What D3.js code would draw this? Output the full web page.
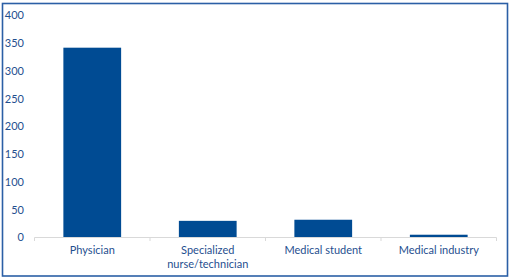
<!DOCTYPE html>
<html>
<head>
<meta charset="utf-8">
<script src="https://cdn.jsdelivr.net/npm/d3@7"></script>
<style>
  html, body { margin: 0; padding: 0; background: #fff; }
  svg { display: block; }
  text { font-family: Lato, "Open Sans", sans-serif; fill: #1f4f8f; }
</style>
</head>
<body>
<svg id="chart" width="511" height="280"></svg>
<script>
const categories = ["Physician", "Specialized\nnurse/technician", "Medical student", "Medical industry"];
const values = [342, 30, 32, 5];
const yTicks = [0, 50, 100, 150, 200, 250, 300, 350, 400];

const svg = d3.select("#chart");
const W = 511, H = 280;

// frame
svg.append("rect")
  .attr("x", 2.5).attr("y", 3.5)
  .attr("width", 505).attr("height", 272.5)
  .attr("fill", "none")
  .attr("stroke", "#2b5fa6")
  .attr("stroke-width", 1.6);

const x = d3.scaleBand().domain(categories).range([34.5, 496.5]).paddingInner(0.5).paddingOuter(0.25);
const y = d3.scaleLinear().domain([0, 400]).range([237.5, 15.5]);

// y labels
svg.append("g").selectAll("text").data(yTicks).join("text")
  .attr("x", 24).attr("y", d => y(d)).attr("dy", "0.35em")
  .attr("text-anchor", "end").attr("font-size", 11)
  .text(d => d);

// bars
svg.append("g").selectAll("rect").data(values).join("rect")
  .attr("x", (d, i) => x(categories[i]))
  .attr("width", x.bandwidth())
  .attr("y", d => y(d))
  .attr("height", d => y(0) - y(d))
  .attr("fill", "#004b93");

// baseline
const band = x.step();
svg.append("line")
  .attr("x1", 34.5).attr("x2", 496.5)
  .attr("y1", 237.5).attr("y2", 237.5)
  .attr("stroke", "#d9d9d9").attr("stroke-width", 1);

// ticks between categories
const tickPos = d3.range(categories.length + 1).map(i => 34.5 + i * (462 / categories.length));
svg.append("g").selectAll("line").data(tickPos).join("line")
  .attr("x1", d => d).attr("x2", d => d)
  .attr("y1", 237.5).attr("y2", 241)
  .attr("stroke", "#d9d9d9");

// category labels
const lab = svg.append("g").selectAll("text").data(categories).join("text")
  .attr("x", d => x(d) + x.bandwidth() / 2)
  .attr("y", 254)
  .attr("text-anchor", "middle").attr("font-size", 11);
lab.each(function(d) {
  const t = d3.select(this);
  d.split("\n").forEach((line, i) => {
    t.append("tspan").attr("x", x(d) + x.bandwidth() / 2).attr("dy", i === 0 ? 0 : 13.5).text(line);
  });
});
</script>
</body>
</html>
